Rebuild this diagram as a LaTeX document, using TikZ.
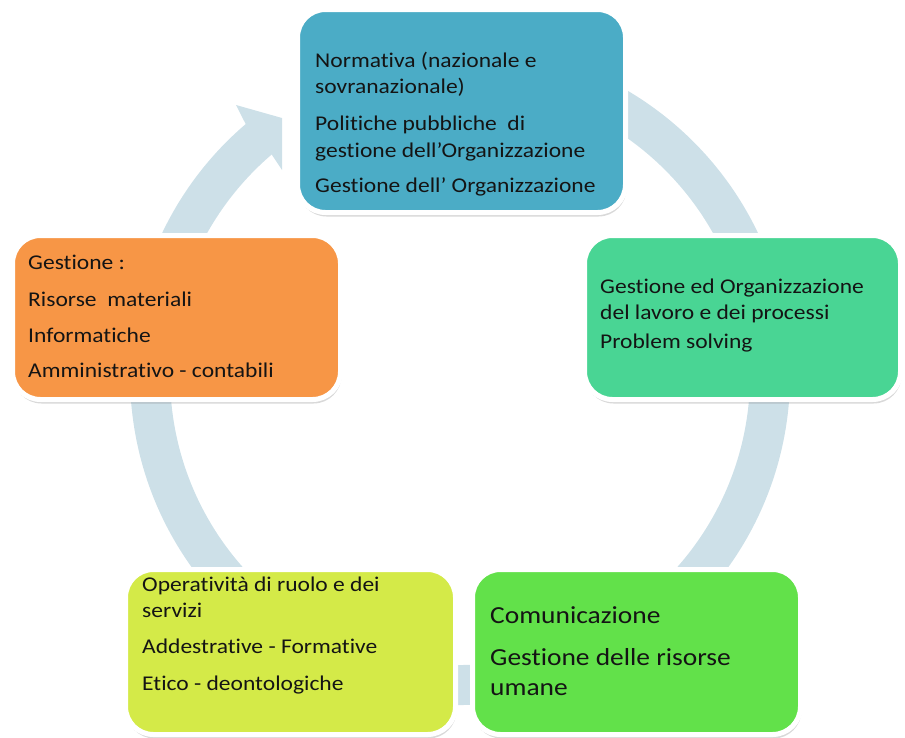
\documentclass[tikz,border=0pt]{standalone}
\usepackage{fontspec}
\setmainfont{Carlito}[FakeStretch=1.12, Ligatures=NoCommon]
\usetikzlibrary{shadows}
\definecolor{ringc}{RGB}{205,224,232}
\definecolor{topc}{RGB}{75,172,198}
\definecolor{rightc}{RGB}{73,213,148}
\definecolor{brc}{RGB}{98,225,74}
\definecolor{blc}{RGB}{212,234,72}
\definecolor{leftc}{RGB}{247,150,70}
\begin{document}
\begin{tikzpicture}[x=1pt,y=-1pt,
  box/.style={draw=white, line width=5pt, rounded corners=28pt, inner sep=0pt,
    drop shadow={shadow xshift=1pt, shadow yshift=-4pt, opacity=0.25, fill=black!60}},
  txt/.style={anchor=base west, inner sep=0pt, font=\fontsize{21pt}{26pt}\selectfont, text=black!92},
  bigtxt/.style={txt, font=\fontsize{24.5pt}{30pt}\selectfont}]
\useasboundingbox (0,0) rectangle (905,737);
% ring
\begin{scope}[shift={(460,375)}, y=1pt]
  \draw[ringc, line width=40pt] (95:310) arc[start angle=95, end angle=-230.5, radius=310];
\end{scope}
\fill[ringc] (236,105) -- (282,118) -- (282,170) -- (271.7,154.5) -- (245.7,124.1) -- cycle;
% boxes
\node[box, fill=topc, minimum width=328pt, minimum height=203pt] (top) at (461.5,111) {};
\node[box, fill=leftc, minimum width=328pt, minimum height=164pt] (left) at (176.5,317.5) {};
\node[box, fill=rightc, minimum width=316pt, minimum height=164pt] (right) at (742.5,317.5) {};
\node[box, fill=blc, minimum width=330pt, minimum height=165pt] (bl) at (290.5,652) {};
\node[box, fill=brc, minimum width=328pt, minimum height=165pt] (br) at (636.5,652) {};
% texts
\node[txt] (t1) at (315,67) {Normativa (nazionale e};
\node[txt] (t2) at (315,93) {sovranazionale)};
\node[txt] (t3) at (315,130) {Politiche pubbliche\ \ di};
\node[txt] (t4) at (315,157) {gestione dell’Organizzazione};
\node[txt] (t5) at (315,192) {Gestione dell’ Organizzazione};
\node[txt] (l1) at (28,269) {Gestione :};
\node[txt] (l2) at (28,306) {Risorse\ \ materiali};
\node[txt] (l3) at (28,342) {Informatiche};
\node[txt] (l4) at (28,377) {Amministrativo - contabili};
\node[txt] (r1) at (600,293) {Gestione ed Organizzazione};
\node[txt] (r2) at (600,319) {del lavoro e dei processi};
\node[txt] (r3) at (600,348) {Problem solving};
\node[txt] (b1) at (142,591) {Operatività di ruolo e dei};
\node[txt] (b2) at (142,617) {servizi};
\node[txt] (b3) at (142,653) {Addestrative - Formative};
\node[txt] (b4) at (142,690) {Etico - deontologiche};
\node[bigtxt] (c1) at (490,623) {Comunicazione};
\node[bigtxt] (c2) at (490,665) {Gestione delle risorse};
\node[bigtxt] (c3) at (490,695) {umane};
\end{tikzpicture}
\end{document}
